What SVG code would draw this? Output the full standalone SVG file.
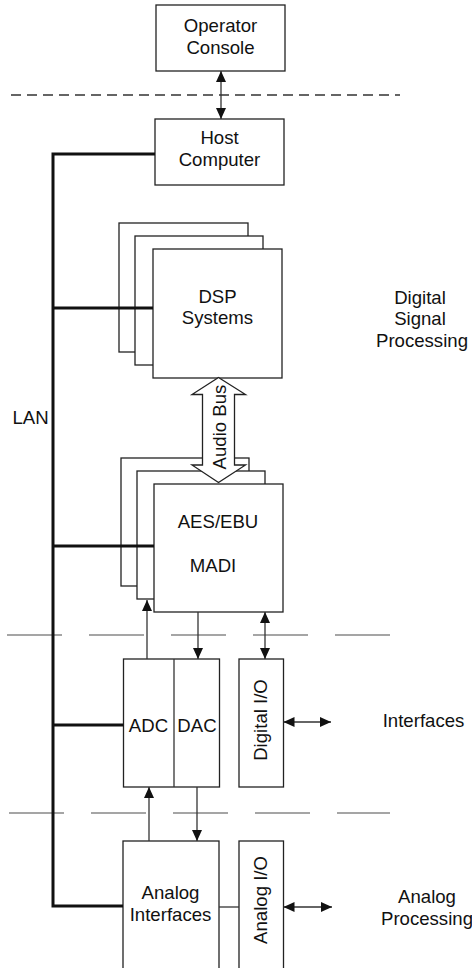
<svg xmlns="http://www.w3.org/2000/svg" width="472" height="968" viewBox="0 0 472 968">
<defs>
<marker id="ah" markerUnits="userSpaceOnUse" markerWidth="12" markerHeight="12" viewBox="0 0 12 12" refX="11" refY="6" orient="auto-start-reverse">
<path d="M0,1 L11,6 L0,11 Z" fill="#111"/>
</marker>
</defs>
<style>
.box{fill:#fff;stroke:#222;stroke-width:1.3}
.t{font-family:"Liberation Sans",Arial,sans-serif;font-size:18.6px;fill:#111;text-anchor:middle}
.lan{fill:none;stroke:#111;stroke-width:3}
.ln{fill:none;stroke:#333;stroke-width:1.3}
.dash1{stroke:#333;stroke-width:1.3;stroke-dasharray:10,6}
.dash2{stroke:#888;stroke-width:1.5;stroke-dasharray:55,27}
</style>
<rect width="472" height="968" fill="#fff"/>

<g id="dividers">
<line class="dash1" x1="11" y1="95" x2="400" y2="95"/>
<line class="dash2" x1="7" y1="635" x2="390" y2="635"/>
<line class="dash2" x1="9" y1="813" x2="390" y2="813"/>
</g>

<g id="operator-console">
<rect class="box" x="156" y="5" width="129" height="66"/>
<text class="t" x="220.5" y="31.5">Operator</text>
<text class="t" x="220.5" y="54">Console</text>
</g>

<g id="host-computer">
<rect class="box" x="155" y="119" width="129" height="66"/>
<text class="t" x="219.5" y="144">Host</text>
<text class="t" x="219.5" y="166">Computer</text>
</g>

<g id="dsp-systems">
<rect class="box" x="119" y="223" width="129" height="129"/>
<rect class="box" x="135" y="236" width="128" height="129"/>
<rect class="box" x="153" y="249" width="129" height="129"/>
<text class="t" x="217.5" y="302.5">DSP</text>
<text class="t" x="217.5" y="324">Systems</text>
</g>

<g id="aes-ebu-madi">
<rect class="box" x="121" y="458" width="128" height="128"/>
<rect class="box" x="137" y="471" width="128" height="128"/>
<rect class="box" x="154" y="484" width="129" height="128"/>
<text class="t" x="218" y="527.5">AES/EBU</text>
<text class="t" x="213" y="572">MADI</text>
</g>

<g id="adc-dac">
<rect class="box" x="123.5" y="659" width="96" height="128"/>
<line class="ln" x1="174" y1="659" x2="174" y2="787"/>
<text class="t" x="148.5" y="731.5">ADC</text>
<text class="t" x="197" y="731.5">DAC</text>
</g>

<g id="digital-io">
<rect class="box" x="239" y="659" width="44.5" height="128"/>
<text class="t" transform="translate(267,720) rotate(-90)">Digital I/O</text>
</g>

<g id="analog-interfaces">
<rect class="box" x="123" y="841" width="96" height="140"/>
<text class="t" x="170.5" y="898.5">Analog</text>
<text class="t" x="170.5" y="920.5">Interfaces</text>
</g>

<g id="analog-io">
<rect class="box" x="239" y="841" width="44.5" height="140"/>
<text class="t" transform="translate(267,900) rotate(-90)">Analog I/O</text>
</g>

<g id="labels">
<text class="t" x="30.5" y="424">LAN</text>
<text class="t" x="420" y="304">Digital</text>
<text class="t" x="420" y="325">Signal</text>
<text class="t" x="422" y="346.5">Processing</text>
<text class="t" x="423.5" y="726.5">Interfaces</text>
<text class="t" x="427" y="902.5">Analog</text>
<text class="t" x="427" y="925">Processing</text>
</g>

<g id="connectors">
<path class="lan" d="M155,154 H53 V906 H123"/>
<line class="lan" x1="53" y1="308" x2="153" y2="308"/>
<line class="lan" x1="53" y1="546" x2="154" y2="546"/>
<line class="lan" x1="53" y1="725" x2="123.5" y2="725"/>
<line class="ln" x1="221" y1="71" x2="221" y2="119" marker-start="url(#ah)" marker-end="url(#ah)"/>
<line class="ln" x1="147" y1="659" x2="147" y2="600" marker-end="url(#ah)"/>
<line class="ln" x1="198" y1="612" x2="198" y2="659" marker-end="url(#ah)"/>
<line class="ln" x1="265" y1="612" x2="265" y2="659" marker-start="url(#ah)" marker-end="url(#ah)"/>
<line class="ln" x1="283.5" y1="722" x2="331" y2="722" marker-start="url(#ah)" marker-end="url(#ah)"/>
<line class="ln" x1="149" y1="841" x2="149" y2="787" marker-end="url(#ah)"/>
<line class="ln" x1="197" y1="787" x2="197" y2="841" marker-end="url(#ah)"/>
<line class="ln" x1="219" y1="907" x2="239" y2="907"/>
<line class="ln" x1="283.5" y1="907" x2="332" y2="907" marker-start="url(#ah)" marker-end="url(#ah)"/>
</g>

<g id="audio-bus">
<polygon class="box" points="218.5,377.5 245.5,394.5 234.5,394.5 234.5,465 245.5,465 218.5,482.5 192,465 202.5,465 202.5,394.5 192,394.5"/>
<text class="t" transform="translate(226,427) rotate(-90)">Audio Bus</text>
</g>
</svg>
